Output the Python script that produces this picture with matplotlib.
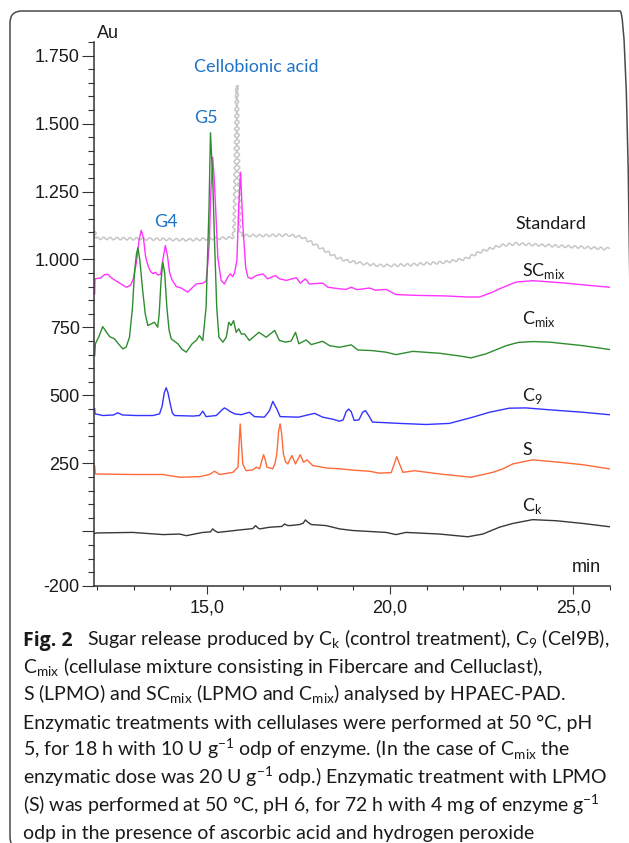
import matplotlib
matplotlib.use("Agg")
import matplotlib.pyplot as plt
from matplotlib.ticker import FixedLocator, FixedFormatter, MultipleLocator
from matplotlib.patches import FancyBboxPatch
from matplotlib.transforms import IdentityTransform

# retention time (min) / detector response (Au)
std_t = [11.93, 11.97, 12.5, 13.5, 14.53, 15.3, 15.70, 15.74, 15.77, 15.80, 15.82, 15.84, 15.87,
         15.90, 15.95, 16.5, 17.25, 17.6, 17.89, 18.07, 18.53, 18.8, 19.25, 19.7, 20.0, 20.6,
         21.5, 22.07, 22.44, 23.0, 23.44, 24.35, 25.25, 25.98]
std_v = [1115, 1078, 1077, 1075, 1072, 1078, 1080, 1100, 1300, 1560, 1640, 1560, 1300,
         1110, 1088, 1088, 1090, 1082, 1060, 1045, 1008, 996, 985, 978, 978, 981,
         990, 1003, 1027, 1051, 1058, 1051, 1045, 1039]

scmix_t = [11.94, 11.95, 12.10, 12.22, 12.30, 12.42, 12.60, 12.80, 12.92, 13.00, 13.08, 13.15,
           13.21, 13.27, 13.33, 13.40, 13.47, 13.53, 13.60, 13.66, 13.74, 13.80, 13.87, 13.93,
           13.98, 14.05, 14.17, 14.30, 14.48, 14.71, 14.89, 14.98, 15.03, 15.07, 15.11, 15.16,
           15.20, 15.24, 15.30, 15.39, 15.48, 15.57, 15.64, 15.71, 15.76, 15.82, 15.87, 15.92,
           15.98, 16.06, 16.12, 16.21, 16.35, 16.53, 16.66, 16.87, 16.98, 17.17, 17.44, 17.55,
           17.69, 17.80, 18.16, 18.30, 18.62, 18.80, 18.94, 19.10, 19.44, 19.60, 19.89, 20.16,
           20.7, 21.5, 22.1, 22.44, 22.8, 23.0, 23.44, 23.89, 24.3, 24.8, 25.4, 25.98]
scmix_v = [874, 929, 932, 945, 945, 930, 915, 898, 905, 930, 990, 1070,
           1107, 1080, 1010, 975, 955, 948, 953, 943, 945, 1000, 1051, 1010,
           955, 925, 900, 895, 880, 910, 913, 920, 990, 1069, 1250, 1376,
           1300, 1192, 1008, 923, 910, 935, 947, 937, 953, 996, 1192, 1321,
           1131, 971, 935, 929, 941, 947, 929, 941, 929, 923, 933, 913,
           929, 910, 913, 898, 892, 890, 898, 889, 895, 887, 890, 871,
           868, 866, 862, 862, 880, 893, 917, 922, 918, 913, 905, 898]

cmix_t = [11.94, 11.96, 12.05, 12.16, 12.25, 12.35, 12.48, 12.60, 12.71, 12.80, 12.89, 12.97,
          13.03, 13.08, 13.12, 13.17, 13.25, 13.32, 13.39, 13.48, 13.57, 13.66, 13.70, 13.75,
          13.80, 13.85, 13.91, 13.97, 14.03, 14.21, 14.32, 14.44, 14.60, 14.71, 14.80, 14.89,
          14.98, 15.06, 15.10, 15.16, 15.21, 15.27, 15.33, 15.44, 15.53, 15.60, 15.66, 15.73,
          15.80, 15.87, 15.94, 16.03, 16.16, 16.42, 16.62, 16.85, 16.98, 17.15, 17.30, 17.42,
          17.51, 17.71, 17.85, 18.16, 18.35, 18.62, 18.94, 19.12, 19.5, 19.89, 20.16, 20.62,
          21.35, 21.9, 22.21, 22.62, 23.17, 23.5, 23.89, 24.35, 25.26, 25.98]
cmix_v = [646, 690, 715, 753, 735, 716, 708, 688, 671, 678, 714, 820,
          959, 1020, 1043, 1000, 886, 800, 757, 763, 769, 751, 800, 920,
          990, 950, 824, 740, 708, 690, 670, 659, 690, 702, 720, 702,
          824, 1192, 1466, 1300, 1069, 824, 714, 696, 714, 769, 757, 775,
          732, 745, 726, 726, 702, 732, 714, 739, 702, 696, 700, 732,
          690, 704, 687, 699, 683, 677, 686, 667, 665, 659, 650, 662,
          655, 645, 638, 653, 683, 695, 698, 696, 683, 669]

c9_t = [11.94, 11.95, 12.17, 12.45, 12.57, 12.70, 13.07, 13.53, 13.71, 13.78, 13.84, 13.89,
        13.94, 14.00, 14.06, 14.12, 14.62, 14.80, 14.89, 14.98, 15.26, 15.40, 15.48, 15.56,
        15.62, 15.76, 15.94, 16.16, 16.30, 16.57, 16.71, 16.80, 16.91, 17.00, 17.50, 17.94,
        18.16, 18.45, 18.62, 18.72, 18.80, 18.87, 18.94, 19.02, 19.15, 19.25, 19.33, 19.42,
        19.52, 20.26, 20.98, 21.62, 22.26, 22.71, 23.25, 23.71, 24.35, 25.26, 25.98]
c9_v = [451, 432, 426, 428, 436, 428, 426, 426, 432, 460, 510, 528,
        510, 470, 435, 426, 424, 426, 442, 422, 426, 445, 454, 448,
        442, 432, 429, 438, 422, 420, 444, 478, 450, 422, 420, 434,
        420, 412, 405, 410, 440, 450, 440, 408, 410, 438, 444, 425,
        402, 397, 393, 397, 420, 438, 453, 454, 447, 438, 429]

s_t = [11.94, 11.96, 12.98, 13.80, 14.26, 14.80, 15.07, 15.21, 15.35, 15.71, 15.85, 15.88,
       15.91, 15.94, 15.98, 16.07, 16.25, 16.36, 16.44, 16.50, 16.55, 16.60, 16.64, 16.80,
       16.86, 16.91, 16.96, 17.00, 17.04, 17.09, 17.15, 17.21, 17.32, 17.42, 17.55, 17.64,
       17.73, 17.89, 18.26, 18.62, 19.0, 19.44, 19.71, 20.03, 20.12, 20.18, 20.25, 20.35,
       20.67, 21.35, 22.21, 22.80, 23.08, 23.35, 23.89, 24.62, 25.26, 25.98]
s_v = [240, 211, 209, 209, 199, 201, 209, 221, 209, 217, 236, 320,
       395, 330, 248, 223, 226, 236, 230, 260, 282, 260, 236, 230,
       250, 285, 370, 395, 360, 285, 255, 248, 279, 248, 282, 254,
       263, 242, 233, 230, 225, 221, 214, 216, 250, 275, 250, 217,
       223, 211, 199, 217, 230, 248, 263, 254, 245, 230]

ck_t = [11.94, 12.0, 12.98, 13.80, 14.26, 14.44, 14.89, 15.10, 15.16, 15.22, 15.30, 15.89,
        16.25, 16.33, 16.40, 16.44, 16.71, 17.05, 17.12, 17.19, 17.26, 17.53, 17.63, 17.69,
        17.76, 17.85, 18.26, 18.62, 18.98, 19.89, 20.16, 20.43, 21.35, 22.12, 22.53, 22.98,
        23.35, 23.89, 24.53, 25.26, 25.98]
ck_v = [-8, -6, -4, -12, -10, -16, -4, -2, 9, 2, -4, 5,
        10, 21, 12, 9, 15, 18, 27, 22, 21, 25, 30, 42,
        33, 25, 21, 9, 3, -4, -12, -4, -10, -20, -10, 15,
        29, 43, 39, 29, 17]

y_ticks = [-200, 0, 250, 500, 750, 1000, 1250, 1500, 1750]
y_labels = ["-200", "", "250", "500", "750", "1.000", "1.250", "1.500", "1.750"]
x_ticks = [15, 20, 25]
x_labels = ["15,0", "20,0", "25,0"]

caption = [
    "C$_\\mathregular{mix}$ (cellulase mixture consisting in Fibercare and Celluclast),",
    "S (LPMO) and SC$_\\mathregular{mix}$ (LPMO and C$_\\mathregular{mix}$) analysed by HPAEC-PAD.",
    "Enzymatic treatments with cellulases were performed at 50 °C, pH",
    "5, for 18 h with 10 U g$^\\mathregular{-1}$ odp of enzyme. (In the case of C$_\\mathregular{mix}$ the",
    "enzymatic dose was 20 U g$^\\mathregular{-1}$ odp.) Enzymatic treatment with LPMO",
    "(S) was performed at 50 °C, pH 6, for 72 h with 4 mg of enzyme g$^\\mathregular{-1}$",
    "odp in the presence of ascorbic acid and hydrogen peroxide",
]

W, H = 629, 843
fig = plt.figure(figsize=(W / 100, H / 100), dpi=100)
ax = fig.add_axes([94.3 / W, 1 - 585.7 / H, (610 - 94.3) / W, (585.7 - 42) / H])

lw = 1.0
std_line, = ax.plot(std_t, std_v, color="#c6c6c6", lw=1.1)
std_line.set_sketch_params(scale=1.3, length=6.5, randomness=1)
ax.plot(scmix_t, scmix_v, color="#ff33ff", lw=lw)
ax.plot(cmix_t, cmix_v, color="#2f8c2f", lw=lw)
ax.plot(c9_t, c9_v, color="#3333ff", lw=lw)
ax.plot(s_t, s_v, color="#ff6a3a", lw=lw)
ax.plot(ck_t, ck_v, color="#383838", lw=lw)

ax.set_xlim(11.93, 26.0)
ax.set_ylim(-200, 1800)
for side in ["top", "right"]:
    ax.spines[side].set_visible(False)
for side in ["left", "bottom"]:
    ax.spines[side].set_color("#333333")
    ax.spines[side].set_linewidth(1.1)

ax.yaxis.set_major_locator(FixedLocator(y_ticks))
ax.yaxis.set_major_formatter(FixedFormatter(y_labels))
ax.yaxis.set_minor_locator(MultipleLocator(50))
ax.xaxis.set_major_locator(FixedLocator(x_ticks))
ax.xaxis.set_major_formatter(FixedFormatter(x_labels))
ax.xaxis.set_minor_locator(MultipleLocator(1))
ax.tick_params(axis="y", which="major", length=9, width=0.8, pad=1.5, color="#333333")
ax.tick_params(axis="y", which="minor", length=4.3, width=0.8, color="#333333")
ax.tick_params(axis="x", which="major", length=6, width=0.8, pad=4, color="#333333")
ax.tick_params(axis="x", which="minor", length=3, width=0.8, color="#333333")
for lab in ax.get_xticklabels() + ax.get_yticklabels():
    lab.set_fontfamily("Liberation Sans")
    lab.set_fontsize(13)
    lab.set_color("#1a1a1a")

ax.text(12.01, 1813, "Au", fontsize=13, family="Liberation Sans", color="#1a1a1a",
        va="baseline", clip_on=False)
ax.text(24.97, -151, "min", fontsize=13, family="Liberation Sans", color="#1a1a1a",
        va="baseline")

lab_font = dict(family="Lato", fontsize=13, color="#1a1a1a", va="baseline", ha="left")
ax.text(23.42, 1112, "Standard", **lab_font)
ax.text(23.61, 941, "SC$_\\mathregular{mix}$", **lab_font)
ax.text(23.61, 764, "C$_\\mathregular{mix}$", **lab_font)
ax.text(23.61, 481, "C$_\\mathregular{9}$", **lab_font)
ax.text(23.61, 282, "S", **lab_font)
ax.text(23.61, 76, "C$_\\mathregular{k}$", **lab_font)

blue = dict(family="Lato", fontsize=13, color="#1f73c6", va="baseline", ha="left")
ax.text(14.66, 1689, "Cellobionic acid", **blue)
ax.text(14.66, 1502, "G5", **blue)
ax.text(13.57, 1119, "G4", **blue)

cap_font = ["Lato", "DejaVu Sans"]
fig.text(23 / W, 1 - 646 / H, "Fig. 2", family=["Open Sans", "Lato"], weight="bold",
         fontsize=14, color="#1a1a1a", va="baseline")
fig.text(87 / W, 1 - 646 / H,
         "Sugar release produced by C$_\\mathregular{k}$ (control treatment), C$_\\mathregular{9}$ (Cel9B),",
         family=cap_font, fontsize=14, color="#1a1a1a", va="baseline")
for i, line in enumerate(caption):
    fig.text(23 / W, 1 - (646 + 27.6 * (i + 1)) / H, line, family=cap_font, fontsize=14,
             color="#1a1a1a", va="baseline")

box = FancyBboxPatch((10, -6), 622, H - 11 + 6, boxstyle="round,pad=0,rounding_size=12",
                     transform=IdentityTransform(), fill=False, edgecolor="#4a4a4a", lw=1.1)
fig.add_artist(box)

fig.savefig("out.png", dpi=100)
